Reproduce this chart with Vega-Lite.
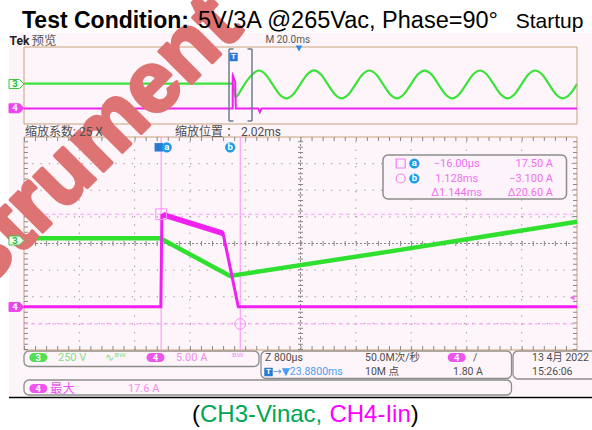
{
"$schema":"https://vega.github.io/schema/vega-lite/v6.json",
"width":592,"height":430,"autosize":"none","padding":0,"background":"#ffffff",
"config":{"view":{"stroke":null}},
"datasets":{
"screenBg":[{"x":9,"x2":592,"y":33,"y2":396}],
"boxes":[{"x":24,"x2":259,"y":351,"y2":366.5},{"x":261,"x2":511.5,"y":351,"y2":378.5},{"x":513,"x2":600,"y":351,"y2":379},{"x":24,"x2":511.5,"y":380,"y2":395}],
"baseLine":[{"x":9,"x2":592,"y":397.5}],
"ch3":[{"t":-75.5,"v":0},{"t":-2,"v":0},{"t":-0.03,"v":0},{"t":0.98,"v":-355},{"t":3.44,"v":-110},{"t":6,"v":155},
{"t":9.4,"v":340},{"t":11.9,"v":234},{"t":14.4,"v":-22},{"t":16.9,"v":-278},{"t":19.4,"v":-384},{"t":21.9,"v":-278},{"t":24.4,"v":-22},{"t":26.9,"v":234},
{"t":29.4,"v":342},{"t":31.9,"v":234},{"t":34.4,"v":-22},{"t":36.9,"v":-278},{"t":39.4,"v":-386},{"t":41.9,"v":-278},{"t":44.4,"v":-22},{"t":46.9,"v":234},
{"t":49.4,"v":340},{"t":51.9,"v":234},{"t":54.4,"v":-22},{"t":56.9,"v":-278},{"t":59.4,"v":-384},{"t":61.9,"v":-278},{"t":64.4,"v":-22},{"t":66.9,"v":234},
{"t":69.4,"v":338},{"t":71.9,"v":234},{"t":74.4,"v":-22},{"t":76.9,"v":-278},{"t":79.4,"v":-384},{"t":81.9,"v":-278},{"t":84.4,"v":-22},{"t":86.9,"v":234},
{"t":89.4,"v":340},{"t":91.9,"v":234},{"t":94.4,"v":-22},{"t":96.9,"v":-278},{"t":99.4,"v":-386},{"t":101.9,"v":-278},{"t":104.4,"v":-22},{"t":106.9,"v":234},
{"t":109.4,"v":340},{"t":111.9,"v":234},{"t":114.4,"v":-22},{"t":116.9,"v":-278},{"t":119.4,"v":-384},{"t":121.9,"v":-278},{"t":124.5,"v":-15}],
"ch4":[{"t":-75.5,"i":0.1},{"t":-2,"i":0.1},{"t":-0.02,"i":0.1},{"t":-0.005,"i":17.3},{"t":0.01,"i":17.4},{"t":0.88,"i":13.9},{"t":1.1,"i":0.1},{"t":6,"i":0.1},{"t":9.2,"i":0.1},{"t":9.8,"i":-1.8},{"t":10.4,"i":0.1},{"t":124.5,"i":0.1}],
"gridT":[{"t":-1.2},{"t":-0.4},{"t":0.4},{"t":1.2},{"t":2.8},{"t":3.6},{"t":4.4},{"t":5.2}],
"gridI":[{"i":-3},{"i":2},{"i":7},{"i":17},{"i":22},{"i":27}],
"center":[{"t":2,"i":12}],
"cursors":[{"cursor":"a","t":-0.016,"i":17.5},{"cursor":"b","t":1.128,"i":-3.1}],
"trigLevel":[{"level":1.8}],
"readoutBox":[{"x":383,"x2":566.5,"y":155,"y2":199}],
"readSym":[{"cursor":"a","x":400.7,"y":163.5},{"cursor":"b","x":400.7,"y":178.5}],
"badges":[{"cursor":"a","x":414.3,"y":163.5},{"cursor":"b","x":414.3,"y":178.5},{"cursor":"a","x":166.7,"y":147.3},{"cursor":"b","x":230.2,"y":147.3}],
"trigMarks":[{"x":233.5,"y":57,"label":"T"},{"x":158.8,"y":147.3,"label":""},{"x":268.5,"y":372,"label":"T"}],
"triDown":[{"x":299,"y":48.5}],
"bracket":[{"x":229,"y":49,"x2":229,"y2":121},{"x":252,"y":49,"x2":252,"y2":121},{"x":229,"y":49,"x2":233.5,"y2":49},{"x":229,"y":121,"x2":233.5,"y2":121},{"x":247.5,"y":49,"x2":252,"y2":49},{"x":247.5,"y":121,"x2":252,"y2":121}],
"tags":[{"ch":"3","x":16.5,"y":84},{"ch":"4","x":16.5,"y":108.3},{"ch":"3","x":16.5,"y":240.5},{"ch":"4","x":16.5,"y":307}],
"pills":[{"ch":"3","x":38.3,"y":357.5},{"ch":"4","x":155.5,"y":357.5},{"ch":"4","x":456.7,"y":357.5},{"ch":"4","x":38.3,"y":388.5}],
"tek":[{"x":9.5,"y":40.5,"text":"Tek"}],
"hdr13":[{"x":31.5,"y":40.5,"text":"预览"}],
"hdr10":[{"x":265.5,"y":40,"text":"M 20.0ms"}],
"zoomInfo":[{"x":25,"y":131.5,"text":"缩放系数: 25 X"},{"x":175,"y":131.5,"text":"缩放位置 ： 2.02ms"}],
"statusDark":[{"x":265,"y":357.5,"text":"Z 800μs"},{"x":365,"y":357.5,"text":"50.0M次/秒"},{"x":365,"y":372,"text":"10M 点"},{"x":453,"y":372,"text":"1.80 A"},{"x":532,"y":357.5,"text":"13 4月 2022"},{"x":532,"y":372,"text":"15:26:06"},{"x":473,"y":357.5,"text":"/"}],
"statusGreen":[{"x":58,"y":358,"text":"250 V"},{"x":105,"y":358,"text":"∿ᴮᵂ"}],
"statusPink":[{"x":176,"y":358,"text":"5.00 A"},{"x":232,"y":358,"text":"ᴮᵂ"},{"x":128,"y":389,"text":"17.6 A"}],
"maxLabel":[{"x":50,"y":389,"text":"最大"}],
"statusBlue":[{"x":273,"y":372,"text":"→▼23.8800ms"}],
"readCenter":[{"x":456.7,"y":163.5,"text":"−16.00μs"},{"x":456.7,"y":178.5,"text":"1.128ms"},{"x":456.7,"y":192.5,"text":"Δ1.144ms"}],
"readRight":[{"x":553,"y":163.5,"text":"17.50 A"},{"x":553,"y":178.5,"text":"−3.100 A"},{"x":553,"y":192.5,"text":"Δ20.60 A"}],
"watermark":[{"x":-69.6,"y":344.2,"text":"Instrument"}],
"titleBold":[{"x":22,"y":27.5,"text":"Test Condition:"}],
"titleReg":[{"x":198,"y":27.5,"text":"5V/3A @265Vac, Phase=90°"}],
"titleEnd":[{"x":515.7,"y":27.5,"text":"Startup"}],
"capBlack":[{"x":192,"y":421.5,"text":"("},{"x":410.7,"y":421.5,"text":")"}],
"capGreen":[{"x":200,"y":421.5,"text":"CH3-Vinac,"}],
"capPink":[{"x":329.4,"y":421.5,"text":"CH4-Iin"}]
},
"resolve":{"scale":{"x":"independent","y":"independent"}},
"layer":[
{"encoding":{"x":{"field":"x","type":"quantitative","scale":{"domain":[0,592],"range":[0,592],"nice":false,"zero":false},"axis":null},"y":{"field":"y","type":"quantitative","scale":{"domain":[0,430],"range":[0,430],"nice":false,"zero":false},"axis":null}},
"layer":[
{"data":{"name":"screenBg"},"mark":{"type":"rect","fill":"#fdf5f9"},"encoding":{"x2":{"field":"x2"},"y2":{"field":"y2"}}},
{"data":{"name":"boxes"},"mark":{"type":"rect","fill":"#fdf5f9","stroke":"#8c8c8c","strokeWidth":1.3,"cornerRadius":5},"encoding":{"x2":{"field":"x2"},"y2":{"field":"y2"}}},
{"data":{"name":"baseLine"},"mark":{"type":"rule","color":"#000000","strokeWidth":1.5},"encoding":{"x2":{"field":"x2"}}}
]},
{"layer":[
{"data":{"name":"center"},"mark":{"type":"rect","fill":"#fdf5f9","stroke":"#c9a27e","strokeWidth":1},"encoding":{"x":{"datum":-2,"type":"quantitative","scale":{"domain":[-2,6],"range":[24,577],"nice":false,"zero":false},"axis":null},"x2":{"datum":6},"y":{"datum":-8,"type":"quantitative","scale":{"domain":[-8,32],"range":[350,137],"nice":false,"zero":false},"axis":null},"y2":{"datum":32}}},
{"data":{"name":"gridT"},"mark":{"type":"rule","color":"#909090","strokeWidth":1,"strokeDash":[1.2,7.1]},"encoding":{"x":{"field":"t","type":"quantitative","scale":{"domain":[-2,6],"range":[24,577],"nice":false,"zero":false},"axis":null},"y":{"datum":-8,"type":"quantitative","scale":{"domain":[-8,32],"range":[350,137],"nice":false,"zero":false},"axis":null},"y2":{"datum":32}}},
{"data":{"name":"gridI"},"mark":{"type":"rule","color":"#909090","strokeWidth":1,"strokeDash":[1.2,7.1]},"encoding":{"y":{"field":"i","type":"quantitative","scale":{"domain":[-8,32],"range":[350,137],"nice":false,"zero":false},"axis":null},"x":{"datum":-2,"type":"quantitative","scale":{"domain":[-2,6],"range":[24,577],"nice":false,"zero":false},"axis":null},"x2":{"datum":6}}},
{"data":{"name":"center"},"mark":{"type":"rule","color":"#8a8a8a","strokeWidth":1,"strokeDash":[2,2]},"encoding":{"x":{"field":"t","type":"quantitative","scale":{"domain":[-2,6],"range":[24,577],"nice":false,"zero":false},"axis":null},"y":{"datum":-8,"type":"quantitative","scale":{"domain":[-8,32],"range":[350,137],"nice":false,"zero":false},"axis":null},"y2":{"datum":32}}},
{"data":{"name":"center"},"mark":{"type":"rule","color":"#8a8a8a","strokeWidth":5,"strokeDash":[1,4.325]},"encoding":{"x":{"field":"t","type":"quantitative"},"y":{"datum":-8,"type":"quantitative"},"y2":{"datum":32}}},
{"data":{"name":"center"},"mark":{"type":"rule","color":"#8a8a8a","strokeWidth":1,"strokeDash":[2,2]},"encoding":{"y":{"field":"i","type":"quantitative"},"x":{"datum":-2,"type":"quantitative"},"x2":{"datum":6}}},
{"data":{"name":"center"},"mark":{"type":"rule","color":"#8a8a8a","strokeWidth":5,"strokeDash":[1,10.06]},"encoding":{"y":{"field":"i","type":"quantitative"},"x":{"datum":-2,"type":"quantitative"},"x2":{"datum":6}}},
{"data":{"name":"center"},"mark":{"type":"rule","color":"#8a8a8a","strokeWidth":4,"strokeDash":[1,4.325]},"encoding":{"x":{"datum":-1.971,"type":"quantitative"},"y":{"datum":-8,"type":"quantitative"},"y2":{"datum":32}}},
{"data":{"name":"center"},"mark":{"type":"rule","color":"#8a8a8a","strokeWidth":4,"strokeDash":[1,4.325]},"encoding":{"x":{"datum":5.971,"type":"quantitative"},"y":{"datum":-8,"type":"quantitative"},"y2":{"datum":32}}},
{"data":{"name":"center"},"mark":{"type":"rule","color":"#8a8a8a","strokeWidth":4,"strokeDash":[1,10.06]},"encoding":{"y":{"datum":-7.62,"type":"quantitative"},"x":{"datum":-2,"type":"quantitative"},"x2":{"datum":6}}},
{"data":{"name":"center"},"mark":{"type":"rule","color":"#8a8a8a","strokeWidth":4,"strokeDash":[1,10.06]},"encoding":{"y":{"datum":31.62,"type":"quantitative"},"x":{"datum":-2,"type":"quantitative"},"x2":{"datum":6}}},
{"data":{"name":"cursors"},"mark":{"type":"rule","color":"#ff8cff","strokeWidth":1},"encoding":{"x":{"field":"t","type":"quantitative"},"y":{"datum":-8,"type":"quantitative"},"y2":{"datum":32}}},
{"data":{"name":"cursors"},"mark":{"type":"rule","color":"#ff9cff","strokeWidth":1,"strokeDash":[4,3]},"encoding":{"y":{"field":"i","type":"quantitative"},"x":{"datum":-2,"type":"quantitative"},"x2":{"datum":6}}}
]},
{"layer":[
{"data":{"name":"ch3"},"transform":[{"filter":"datum.t >= -2 && datum.t <= 6"}],"mark":{"type":"line","color":"#2fe02f","strokeWidth":4.5},"encoding":{"x":{"field":"t","type":"quantitative","scale":{"domain":[-2,6],"range":[24,577],"nice":false,"zero":false},"axis":null},"y":{"field":"v","type":"quantitative","scale":{"domain":[-1050,950],"range":[350,137],"nice":false,"zero":false},"axis":null}}}
]},
{"layer":[
{"data":{"name":"ch4"},"transform":[{"filter":"datum.t >= -2 && datum.t <= 6"}],"mark":{"type":"line","color":"#f020f0","strokeWidth":3},"encoding":{"x":{"field":"t","type":"quantitative","scale":{"domain":[-2,6],"range":[24,577],"nice":false,"zero":false},"axis":null},"y":{"field":"i","type":"quantitative","scale":{"domain":[-8,32],"range":[350,137],"nice":false,"zero":false},"axis":null}}},
{"data":{"name":"ch4"},"transform":[{"filter":"datum.t >= 0 && datum.t <= 0.9"}],"mark":{"type":"line","color":"#f020f0","strokeWidth":5.5},"encoding":{"x":{"field":"t","type":"quantitative"},"y":{"field":"i","type":"quantitative"}}},
{"data":{"name":"cursors"},"transform":[{"filter":"datum.cursor === 'a'"}],"mark":{"type":"point","shape":"square","size":115,"filled":false,"stroke":"#ff8cff","strokeWidth":1,"opacity":1},"encoding":{"x":{"field":"t","type":"quantitative"},"y":{"field":"i","type":"quantitative"}}},
{"data":{"name":"cursors"},"transform":[{"filter":"datum.cursor === 'b'"}],"mark":{"type":"point","shape":"circle","size":115,"filled":false,"stroke":"#ff8cff","strokeWidth":1,"opacity":1},"encoding":{"x":{"field":"t","type":"quantitative"},"y":{"field":"i","type":"quantitative"}}},
{"data":{"name":"trigLevel"},"mark":{"type":"point","shape":"triangle-left","size":30,"filled":true,"fill":"#f070f0","strokeWidth":0,"opacity":1},"encoding":{"x":{"datum":5.93,"type":"quantitative"},"y":{"field":"level","type":"quantitative"}}}
]},
{"layer":[
{"data":{"name":"ch3"},"mark":{"type":"line","color":"#3ae23a","strokeWidth":2.2,"interpolate":"monotone"},"encoding":{"x":{"field":"t","type":"quantitative","scale":{"domain":[-75.5,124.5],"range":[24,577],"nice":false,"zero":false},"axis":null},"y":{"field":"v","type":"quantitative","scale":{"domain":[-1050,950],"range":[124,47],"nice":false,"zero":false},"axis":null}}}
]},
{"layer":[
{"data":{"name":"center"},"mark":{"type":"rect","filled":false,"color":"#c9a27e","strokeWidth":1},"encoding":{"x":{"datum":-75.5,"type":"quantitative","scale":{"domain":[-75.5,124.5],"range":[24,577],"nice":false,"zero":false},"axis":null},"x2":{"datum":124.5},"y":{"datum":-8,"type":"quantitative","scale":{"domain":[-8,32],"range":[124,47],"nice":false,"zero":false},"axis":null},"y2":{"datum":32}}},
{"data":{"name":"ch4"},"mark":{"type":"line","color":"#f020f0","strokeWidth":2},"encoding":{"x":{"field":"t","type":"quantitative"},"y":{"field":"i","type":"quantitative"}}}
]},
{"encoding":{"x":{"field":"x","type":"quantitative","scale":{"domain":[0,592],"range":[0,592],"nice":false,"zero":false},"axis":null},"y":{"field":"y","type":"quantitative","scale":{"domain":[0,430],"range":[0,430],"nice":false,"zero":false},"axis":null}},
"layer":[
{"data":{"name":"readoutBox"},"mark":{"type":"rect","fill":"#fdf4fb","stroke":"#8c8c8c","strokeWidth":1.5,"cornerRadius":5},"encoding":{"x2":{"field":"x2"},"y2":{"field":"y2"}}},
{"data":{"name":"readSym"},"mark":{"type":"point","size":81,"filled":false,"stroke":"#f080f0","strokeWidth":1.2,"opacity":1},"encoding":{"shape":{"field":"cursor","type":"nominal","scale":{"domain":["a","b"],"range":["square","circle"]},"legend":null}}},
{"data":{"name":"trigMarks"},"mark":{"type":"point","shape":"square","size":72,"filled":true,"fill":"#2a7ad8","strokeWidth":0,"opacity":1}},
{"data":{"name":"trigMarks"},"mark":{"type":"text","font":"Roboto","fontWeight":"bold","fontSize":8,"color":"#ffffff","align":"center","baseline":"middle"},"encoding":{"text":{"field":"label"}}},
{"data":{"name":"badges"},"mark":{"type":"point","shape":"circle","size":105,"filled":true,"fill":"#1e9be8","strokeWidth":0,"opacity":1}},
{"data":{"name":"badges"},"mark":{"type":"text","font":"Roboto","fontWeight":"bold","fontSize":9.5,"color":"#ffffff","align":"center","baseline":"middle","dy":-0.5},"encoding":{"text":{"field":"cursor"}}},
{"data":{"name":"triDown"},"mark":{"type":"point","shape":"triangle-down","size":45,"filled":true,"fill":"#2a8ae6","strokeWidth":0,"opacity":1}},
{"data":{"name":"bracket"},"mark":{"type":"rule","color":"#6b7b8e","strokeWidth":1.5},"encoding":{"x2":{"field":"x2"},"y2":{"field":"y2"}}},
{"data":{"name":"pills"},"transform":[{"filter":"datum.ch === '3'"}],"mark":{"type":"point","shape":"M-0.5,-0.5L0.5,-0.5A0.5,0.5,0,0,1,0.5,0.5L-0.5,0.5A0.5,0.5,0,0,1,-0.5,-0.5Z","size":324,"filled":true,"fill":"#55dd55","strokeWidth":0,"opacity":1}},
{"data":{"name":"pills"},"transform":[{"filter":"datum.ch === '4'"}],"mark":{"type":"point","shape":"M-0.5,-0.5L0.5,-0.5A0.5,0.5,0,0,1,0.5,0.5L-0.5,0.5A0.5,0.5,0,0,1,-0.5,-0.5Z","size":324,"filled":true,"fill":"#ee55ee","strokeWidth":0,"opacity":1}},
{"data":{"name":"pills"},"mark":{"type":"text","font":"Roboto","fontWeight":"bold","fontSize":9.5,"color":"#ffffff","align":"center","baseline":"middle"},"encoding":{"text":{"field":"ch"}}},
{"data":{"name":"tek"},"mark":{"type":"text","font":"Roboto","fontWeight":"bold","fontSize":12,"color":"#222222","align":"left","baseline":"middle"},"encoding":{"text":{"field":"text"}}},
{"data":{"name":"hdr13"},"mark":{"type":"text","font":"'Noto Sans CJK SC'","fontSize":12.5,"color":"#5a5a5a","align":"left","baseline":"middle"},"encoding":{"text":{"field":"text"}}},
{"data":{"name":"hdr10"},"mark":{"type":"text","font":"Roboto","fontSize":10,"color":"#555555","align":"left","baseline":"middle"},"encoding":{"text":{"field":"text"}}},
{"data":{"name":"statusDark"},"mark":{"type":"text","font":"Roboto, 'Noto Sans CJK SC'","fontSize":10.5,"color":"#4d4d4d","align":"left","baseline":"middle"},"encoding":{"text":{"field":"text"}}},
{"data":{"name":"statusGreen"},"mark":{"type":"text","font":"Roboto, 'DejaVu Sans'","fontSize":11,"color":"#84e084","align":"left","baseline":"middle"},"encoding":{"text":{"field":"text"}}},
{"data":{"name":"statusPink"},"mark":{"type":"text","font":"Roboto, 'DejaVu Sans'","fontSize":11,"color":"#f08cf0","align":"left","baseline":"middle"},"encoding":{"text":{"field":"text"}}},
{"data":{"name":"maxLabel"},"mark":{"type":"text","font":"'Noto Sans CJK SC'","fontSize":12.5,"color":"#ee55ee","align":"left","baseline":"middle"},"encoding":{"text":{"field":"text"}}},
{"data":{"name":"statusBlue"},"mark":{"type":"text","font":"Roboto, 'DejaVu Sans'","fontSize":10.5,"color":"#4b9ef2","align":"left","baseline":"middle"},"encoding":{"text":{"field":"text"}}},
{"data":{"name":"readCenter"},"mark":{"type":"text","font":"Roboto","fontSize":11,"color":"#f070f0","align":"center","baseline":"middle"},"encoding":{"text":{"field":"text"}}},
{"data":{"name":"readRight"},"mark":{"type":"text","font":"Roboto","fontSize":11,"color":"#f070f0","align":"right","baseline":"middle"},"encoding":{"text":{"field":"text"}}}
]},
{"encoding":{"x":{"field":"x","type":"quantitative","scale":{"domain":[0,592],"range":[0,592],"nice":false,"zero":false},"axis":null},"y":{"field":"y","type":"quantitative","scale":{"domain":[0,430],"range":[0,430],"nice":false,"zero":false},"axis":null}},
"layer":[
{"data":{"name":"watermark"},"mark":{"type":"text","font":"Liberation Sans","fontWeight":"bold","fontSize":86,"angle":-45,"fill":"#dd7373","stroke":"#dd7373","strokeWidth":3.5,"strokeJoin":"round","opacity":1,"align":"left","baseline":"alphabetic"},"encoding":{"text":{"field":"text"}}},
{"data":{"name":"tags"},"transform":[{"filter":"datum.ch === '3'"}],"mark":{"type":"point","shape":"M-1,-0.6L0.4,-0.6L1,0L0.4,0.6L-1,0.6Z","size":225,"filled":true,"fill":"#f2fff2","stroke":"#3cc83c","strokeWidth":1,"opacity":1}},
{"data":{"name":"tags"},"transform":[{"filter":"datum.ch === '4'"}],"mark":{"type":"point","shape":"M-1,-0.6L0.4,-0.6L1,0L0.4,0.6L-1,0.6Z","size":225,"filled":true,"fill":"#ee44ee","stroke":"#ee44ee","strokeWidth":1,"opacity":1}},
{"data":{"name":"tags"},"transform":[{"filter":"datum.ch === '3'"}],"mark":{"type":"text","font":"Roboto","fontWeight":"bold","fontSize":9.5,"color":"#2eb82e","align":"center","baseline":"middle","dx":-1.5},"encoding":{"text":{"field":"ch"}}},
{"data":{"name":"tags"},"transform":[{"filter":"datum.ch === '4'"}],"mark":{"type":"text","font":"Roboto","fontWeight":"bold","fontSize":9.5,"color":"#ffffff","align":"center","baseline":"middle","dx":-1.5},"encoding":{"text":{"field":"ch"}}},
{"data":{"name":"zoomInfo"},"mark":{"type":"text","font":"Roboto, 'Noto Sans CJK SC'","fontSize":12,"color":"#4d4d4d","align":"left","baseline":"middle"},"encoding":{"text":{"field":"text"}}},
{"data":{"name":"titleBold"},"mark":{"type":"text","font":"Liberation Sans","fontWeight":"bold","fontSize":23,"color":"#000000","align":"left","baseline":"alphabetic"},"encoding":{"text":{"field":"text"}}},
{"data":{"name":"titleReg"},"mark":{"type":"text","font":"Liberation Sans","fontSize":23.5,"color":"#000000","align":"left","baseline":"alphabetic"},"encoding":{"text":{"field":"text"}}},
{"data":{"name":"titleEnd"},"mark":{"type":"text","font":"Liberation Sans","fontSize":21,"color":"#000000","align":"left","baseline":"alphabetic"},"encoding":{"text":{"field":"text"}}},
{"data":{"name":"capBlack"},"mark":{"type":"text","font":"Liberation Sans","fontSize":24,"color":"#000000","align":"left","baseline":"alphabetic"},"encoding":{"text":{"field":"text"}}},
{"data":{"name":"capGreen"},"mark":{"type":"text","font":"Liberation Sans","fontSize":24,"color":"#00a651","align":"left","baseline":"alphabetic"},"encoding":{"text":{"field":"text"}}},
{"data":{"name":"capPink"},"mark":{"type":"text","font":"Liberation Sans","fontSize":24,"color":"#ff00ff","align":"left","baseline":"alphabetic"},"encoding":{"text":{"field":"text"}}}
]}
]
}
